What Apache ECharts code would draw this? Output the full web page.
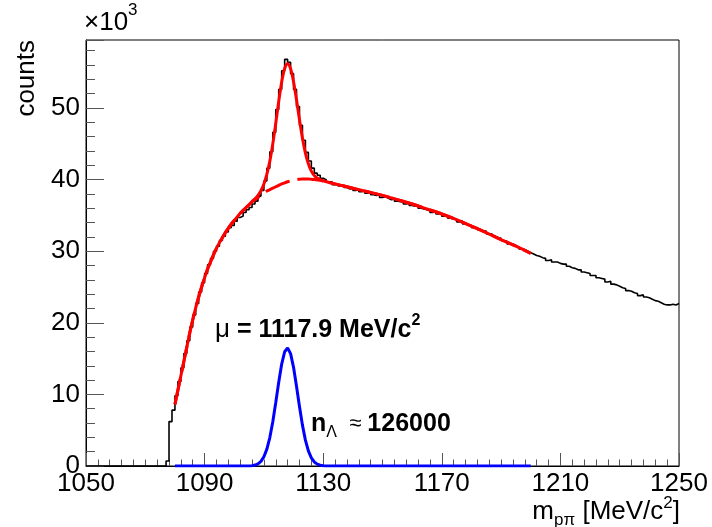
<!DOCTYPE html>
<html><head><meta charset="utf-8">
<script src="https://cdn.jsdelivr.net/npm/echarts@6/dist/echarts.min.js"></script>
<style>html,body{margin:0;padding:0;background:#fff}#c{width:712px;height:527px}</style>
</head><body><div id="c"></div>
<script>
// ---- axis ranges / ticks ----
const X_MIN = 1050, X_MAX = 1250;
const BIN_WIDTH = 1;               // MeV per histogram bin
const xTickLabels = [1050, 1090, 1130, 1170, 1210, 1250];
const yTickLabels = [0, 10, 20, 30, 40, 50];   // in units of 10^3 counts
const Y_MAX = 59.5;

// ---- histogram counts (x10^3), one per 1 MeV bin from 1050 to 1250 ----
const histCounts = [
  0,0,0,0,0,0,0,0,0,0,
  0,0,0,0,0,0,0,0,0,0,
  0,0,0,0,0,0,0,0.7,6.2,7.8,
  9.8,11.8,13.7,15.7,17.5,19.4,21.1,22.7,24.3,25.6,
  26.9,28.1,29.0,30.0,30.7,31.5,32.1,32.7,33.3,33.6,
  34.2,34.7,34.9,35.4,35.8,36.1,36.6,37.0,37.7,38.5,
  39.8,41.6,43.9,46.6,49.8,52.6,55.2,56.8,56.4,54.8,
  52.6,50.2,47.6,45.5,43.8,42.6,41.6,40.9,40.6,40.2,
  40.0,39.7,39.7,39.3,39.4,39.1,39.2,38.9,38.7,38.8,
  38.5,38.6,38.3,38.4,38.1,38.2,37.9,37.8,37.9,37.5,
  37.6,37.4,37.2,37.3,37.0,36.9,36.9,36.6,36.7,36.4,
  36.3,36.4,36.0,35.9,35.8,35.7,35.4,35.5,35.2,35.3,
  34.9,34.9,34.6,34.5,34.4,34.1,34.2,33.8,33.7,33.6,
  33.3,33.3,33.0,32.8,32.8,32.4,32.4,32.1,31.9,31.8,
  31.5,31.4,31.0,31.0,30.8,30.6,30.3,30.2,30.0,29.8,
  29.6,29.4,29.3,29.1,29.0,28.7,28.8,28.5,28.5,28.3,
  28.2,28.2,27.9,27.7,27.6,27.4,27.4,27.1,27.0,26.9,
  26.6,26.6,26.3,26.2,26.1,25.7,25.8,25.4,25.3,25.1,
  24.9,24.8,24.5,24.4,24.2,24.1,23.8,23.9,23.6,23.5,
  23.3,23.1,23.0,22.8,22.6,22.5,22.5,22.6,22.5,22.7
];

// ---- fit curves (x10^3) ----
const fitMass = [
  1080,1081,1082,1083,1084,1085,1086,1087,1088,1089,
  1090,1091,1092,1093,1094,1095,1096,1097,1098,1099,
  1100,1101,1102,1103,1104,1105,1106,1107,1108,1109,
  1110,1111,1112,1113,1114,1115,1116,1117,1118,1119,
  1120,1121,1122,1123,1124,1125,1126,1127,1128,1129,
  1130,1132,1134,1136,1138,1140,1145,1150,1155,1160,
  1165,1170,1175,1180,1185,1190,1195,1200
];
const fitBackground = [
  8.6,10.6,12.6,14.6,16.6,18.6,20.4,22.1,23.6,25.0,
  26.3,27.5,28.5,29.5,30.4,31.2,31.9,32.6,33.2,33.8,
  34.3,34.8,35.3,35.7,36.1,36.5,36.9,37.2,37.5,37.8,
  38.1,38.4,38.6,38.8,39.0,39.2,39.4,39.55,39.7,39.8,
  39.9,40.0,40.05,40.1,40.1,40.1,40.05,40.0,39.95,39.9,
  39.8,39.6,39.4,39.2,39.0,38.8,38.3,37.8,37.2,36.6,
  35.9,35.2,34.4,33.5,32.6,31.6,30.7,29.7
];
const fitTotal = [
  8.6,10.6,12.6,14.6,16.6,18.6,20.4,22.1,23.6,25.0,
  26.3,27.5,28.5,29.5,30.4,31.2,31.9,32.6,33.2,33.8,
  34.3,34.8,35.3,35.7,36.1,36.5,36.95,37.33,37.8,38.45,
  39.39,40.76,42.58,44.99,47.87,50.91,53.64,55.51,56.19,55.5,
  53.68,51.15,48.36,45.81,43.71,42.21,41.18,40.56,40.21,40.01,
  39.84,39.6,39.4,39.2,39.0,38.8,38.3,37.8,37.2,36.6,
  35.9,35.2,34.4,33.5,32.6,31.6,30.7,29.7
];
const sigMass = [
  1080,1105,1106,1107,1108,1109,1110,1111,1112,1113,1114,1115,1116,1117,1118,
  1119,1120,1121,1122,1123,1124,1125,1126,1127,1128,1129,1130,1131,1200
];
const sigValues = [
  0,0,0.05,0.13,0.30,0.65,1.29,2.36,3.98,6.19,8.87,11.71,14.24,15.96,16.49,
  15.70,13.78,11.15,8.31,5.71,3.61,2.11,1.13,0.56,0.26,0.11,0.04,0,0
];

// ---- build series data (x offset from X_MIN so ticks start at 1050) ----
const histData = histCounts.map((v, i) => [i * BIN_WIDTH, v]);
histData.push([X_MAX - X_MIN, histCounts[histCounts.length - 1]]);
const bgData = fitMass.map((m, i) => [m - X_MIN, fitBackground[i]]);
const totData = fitMass.map((m, i) => [m - X_MIN, fitTotal[i]]);
const sigData = sigMass.map((m, i) => [m - X_MIN, sigValues[i]]);

const FONT = 'Liberation Sans, Arial, Helvetica, sans-serif';
const chart = echarts.init(document.getElementById('c'), null, {renderer: 'canvas'});
chart.setOption({
  animation: false,
  backgroundColor: '#fff',
  grid: {left: 86, right: 33, top: 40, bottom: 61, show: true, borderColor: '#000', borderWidth: 1, backgroundColor: 'transparent'},
  xAxis: {
    type: 'value', min: 0, max: X_MAX - X_MIN, interval: 40,
    axisLine: {onZero: false, lineStyle: {color: '#000', width: 1}},
    axisTick: {inside: true, length: 13, lineStyle: {color: '#555'}},
    minorTick: {show: true, splitNumber: 10, length: 6.5, lineStyle: {color: '#555'}},
    splitLine: {show: false}, minorSplitLine: {show: false},
    axisLabel: {margin: 5, fontSize: 26, fontFamily: FONT, color: '#000',
      formatter: v => { const m = v + X_MIN; return xTickLabels.indexOf(m) >= 0 ? String(m) : ''; }}
  },
  yAxis: {
    type: 'value', min: 0, max: Y_MAX, interval: 10,
    axisLine: {onZero: false, lineStyle: {color: '#000', width: 1}},
    axisTick: {inside: true, length: 18, lineStyle: {color: '#555'}},
    minorTick: {show: true, splitNumber: 5, length: 9, lineStyle: {color: '#555'}},
    splitLine: {show: false}, minorSplitLine: {show: false},
    axisLabel: {margin: 6, fontSize: 26, fontFamily: FONT, color: '#000', showMaxLabel: false,
      formatter: v => yTickLabels.indexOf(v) >= 0 ? String(v) : ''}
  },
  series: [
    {type: 'line', data: histData, step: 'end', symbol: 'none', z: 2,
      lineStyle: {color: '#000', width: 1.6}},
    {type: 'line', data: bgData, smooth: 0.3, symbol: 'none', z: 3,
      lineStyle: {color: '#ff0000', width: 3, type: [26, 8]}},
    {type: 'line', data: totData, smooth: 0.3, symbol: 'none', z: 4,
      lineStyle: {color: '#ff0000', width: 3}},
    {type: 'line', data: sigData, symbol: 'none', z: 5,
      lineStyle: {color: '#0000ff', width: 3}}
  ],
  graphic: [
    {type: 'text', x: 84, y: 2, z: 10, style: {
      text: '{a|×10}{s|3}', fill: '#000',
      rich: {a: {fontSize: 26, fontFamily: FONT, lineHeight: 34, verticalAlign: 'bottom'},
             s: {fontSize: 17, fontFamily: FONT, lineHeight: 17, verticalAlign: 'top'}}}},
    {type: 'text', x: 27, y: 40, rotation: Math.PI / 2, z: 10, style: {
      text: 'counts', fill: '#000', fontSize: 26, fontFamily: FONT, align: 'right', verticalAlign: 'middle'}},
    {type: 'text', x: 680, y: 512, z: 10, style: {
      text: '{n|m}{b|pπ}{n| [MeV/c}{t|2}{n|]}', fill: '#000', align: 'right', verticalAlign: 'middle',
      rich: {n: {fontSize: 26, fontFamily: FONT, lineHeight: 34, verticalAlign: 'middle'},
             b: {fontSize: 17, fontFamily: FONT, lineHeight: 17, verticalAlign: 'bottom'},
             t: {fontSize: 17, fontFamily: FONT, lineHeight: 17, verticalAlign: 'top'}}}},
    {type: 'text', x: 215, y: 330, z: 10, style: {
      text: '{m|μ}{n| = 1117.9 MeV/c}{t|2}', fill: '#000', align: 'left', verticalAlign: 'middle',
      rich: {m: {fontSize: 26, fontFamily: FONT, lineHeight: 34, verticalAlign: 'middle'},
             n: {fontSize: 25, fontFamily: FONT, fontWeight: 'bold', lineHeight: 34, verticalAlign: 'middle'},
             t: {fontSize: 16, fontFamily: FONT, fontWeight: 'bold', lineHeight: 16, verticalAlign: 'top'}}}},
    {type: 'text', x: 311, y: 424, z: 10, style: {
      text: '{n|n}{b|Λ}{r|  ≈ }{n|126000}', fill: '#000', align: 'left', verticalAlign: 'middle',
      rich: {n: {fontSize: 25, fontFamily: FONT, fontWeight: 'bold', lineHeight: 34, verticalAlign: 'middle'},
             b: {fontSize: 16, fontFamily: FONT, lineHeight: 16, verticalAlign: 'bottom'},
             r: {fontSize: 22, fontFamily: FONT, lineHeight: 34, verticalAlign: 'middle'}}}}
  ]
});
</script></body></html>
